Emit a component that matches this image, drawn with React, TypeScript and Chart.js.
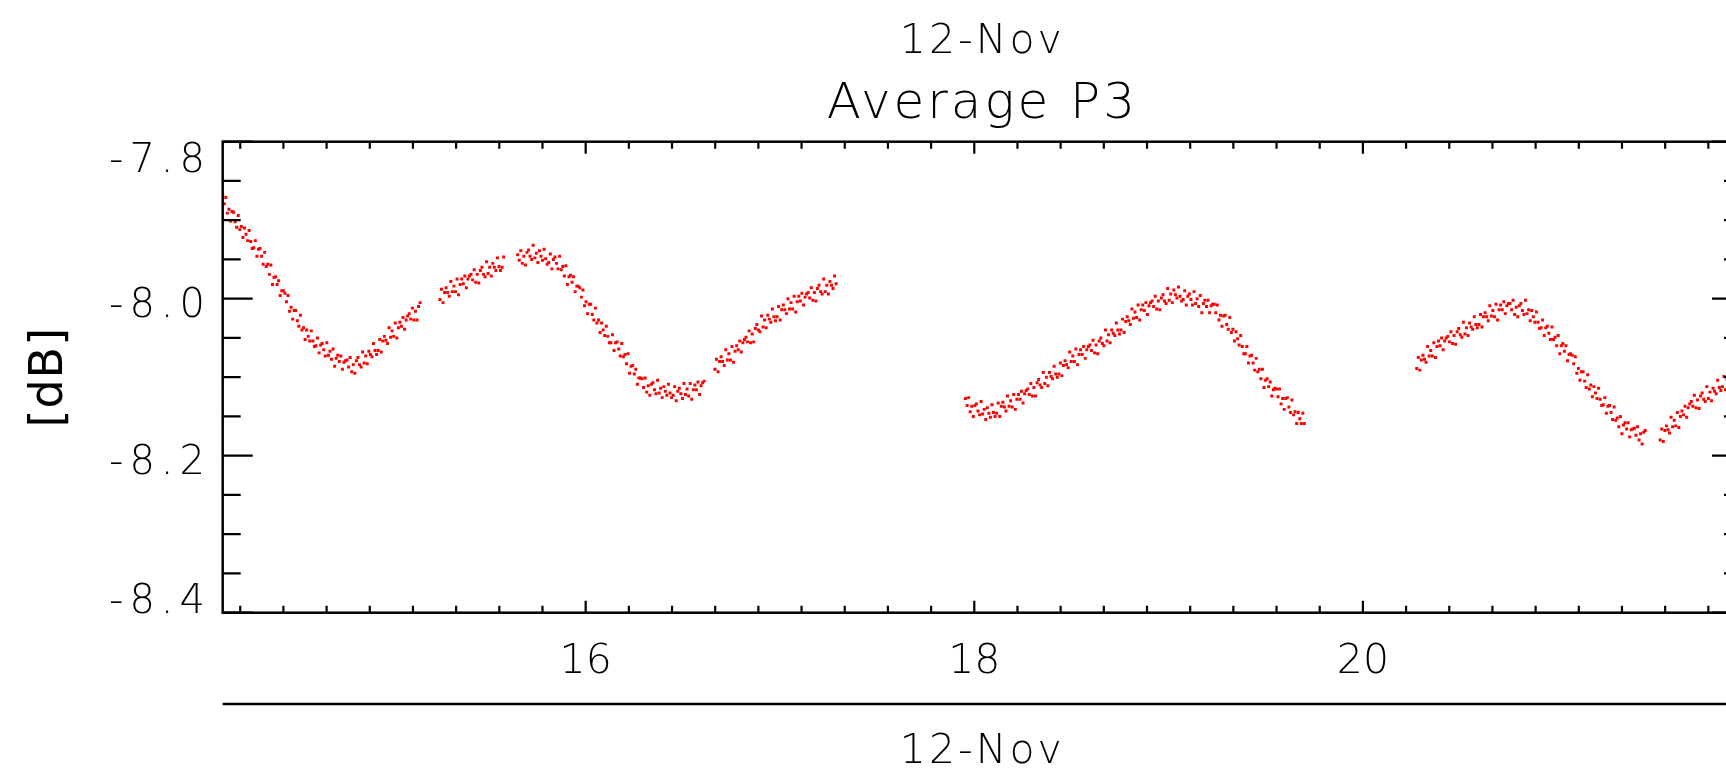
import React, { useEffect, useRef } from 'react';
import { Chart, registerables } from 'chart.js';

Chart.register(...registerables);

// ---- sampling (hours of day, 12-Nov) ----
const SAMPLE_STEP_H = 0.008;

const SEG1_START = 14.132;
const SEG1 = [
  -7.868, -7.879, -7.871, -7.891, -7.886, -7.901, -7.889, -7.890, -7.902, -7.909,
  -7.894, -7.912, -7.908, -7.922, -7.910, -7.918, -7.926, -7.913, -7.927, -7.936,
  -7.935, -7.926, -7.946, -7.937, -7.936, -7.946, -7.956, -7.941, -7.959, -7.956,
  -7.969, -7.957, -7.982, -7.973, -7.972, -7.982, -7.977, -7.996, -7.990, -7.990,
  -7.993, -8.004, -7.996, -8.016, -8.011, -8.026, -8.015, -8.015, -8.028, -8.035,
  -8.021, -8.040, -8.037, -8.052, -8.040, -8.048, -8.054, -8.041, -8.054, -8.061,
  -8.060, -8.050, -8.069, -8.059, -8.057, -8.065, -8.073, -8.056, -8.072, -8.067,
  -8.077, -8.064, -8.086, -8.076, -8.072, -8.080, -8.073, -8.090, -8.081, -8.079,
  -8.078, -8.087, -8.075, -8.093, -8.084, -8.095, -8.079, -8.075, -8.084, -8.087,
  -8.068, -8.082, -8.073, -8.083, -8.067, -8.071, -8.074, -8.057, -8.066, -8.071,
  -8.066, -8.052, -8.068, -8.054, -8.048, -8.053, -8.057, -8.037, -8.049, -8.041,
  -8.048, -8.031, -8.050, -8.037, -8.030, -8.035, -8.024, -8.039, -8.027, -8.022,
  -8.019, -8.026, -8.012, -8.027, -8.016, -8.027, -8.010, -8.005,
];

const SEG2A_START = 15.25;
const SEG2A = [
  -8.001, -7.988, -8.005, -7.992, -7.986, -7.992, -7.997, -7.978, -7.991, -7.984,
  -7.991, -7.975, -7.995, -7.982, -7.975, -7.981, -7.971, -7.986, -7.975, -7.971,
  -7.969, -7.976, -7.963, -7.979, -7.969, -7.980, -7.964, -7.960, -7.969, -7.972,
  -7.953, -7.968, -7.960, -7.971, -7.955, -7.960, -7.964, -7.948, -7.959, -7.964,
  -7.960, -7.947,
];

const SEG2B_START = 15.65;
const SEG2B = [
  -7.944, -7.951, -7.939, -7.955, -7.946, -7.957, -7.941, -7.938, -7.946, -7.950,
  -7.932, -7.948, -7.942, -7.954, -7.939, -7.946, -7.951, -7.937, -7.949, -7.956,
  -7.954, -7.943, -7.962, -7.950, -7.947, -7.955, -7.962, -7.946, -7.963, -7.959,
  -7.971, -7.958, -7.982, -7.972, -7.970, -7.979, -7.972, -7.991, -7.984, -7.984,
  -7.986, -7.998, -7.989, -8.009, -8.004, -8.019, -8.007, -8.007, -8.020, -8.027,
  -8.012, -8.031, -8.027, -8.043, -8.031, -8.040, -8.047, -8.035, -8.048, -8.056,
  -8.056, -8.046, -8.066, -8.056, -8.055, -8.064, -8.073, -8.057, -8.074, -8.071,
  -8.083, -8.070, -8.095, -8.086, -8.085, -8.096, -8.090, -8.109, -8.101, -8.101,
  -8.102, -8.113, -8.101, -8.119, -8.111, -8.123, -8.109, -8.107, -8.116, -8.121,
  -8.104, -8.120, -8.114, -8.126, -8.112, -8.118, -8.123, -8.109, -8.120, -8.126,
  -8.123, -8.112, -8.130, -8.118, -8.114, -8.121, -8.127, -8.108, -8.122, -8.115,
  -8.124, -8.108, -8.128, -8.116, -8.110, -8.116, -8.106, -8.122, -8.111, -8.107,
  -8.105,
];

const SEG2C_START = 16.665;
const SEG2C = [
  -8.090, -8.077, -8.093, -8.080, -8.074, -8.080, -8.085, -8.065, -8.078, -8.070,
  -8.078, -8.061, -8.081, -8.067, -8.060, -8.065, -8.054, -8.068, -8.056, -8.052,
  -8.049, -8.055, -8.041, -8.056, -8.045, -8.055, -8.038, -8.033, -8.040, -8.042,
  -8.022, -8.036, -8.027, -8.037, -8.021, -8.026, -8.030, -8.013, -8.023, -8.028,
  -8.023, -8.010, -8.027, -8.014, -8.008, -8.014, -8.019, -8.000, -8.013, -8.005,
  -8.013, -7.997, -8.017, -8.004, -7.997, -8.003, -7.993, -8.008, -7.998, -7.994,
  -7.992, -7.999, -7.986, -8.002, -7.992, -8.003, -7.987, -7.983, -7.991, -7.994,
  -7.975, -7.991, -7.983, -7.994, -7.978, -7.983, -7.987, -7.971, -7.981,
];

const SEG3_START = 17.955;
const SEG3 = [
  -8.127, -8.136, -8.126, -8.144, -8.137, -8.150, -8.136, -8.134, -8.143, -8.148,
  -8.131, -8.147, -8.141, -8.154, -8.139, -8.146, -8.151, -8.135, -8.145, -8.150,
  -8.146, -8.133, -8.150, -8.137, -8.132, -8.138, -8.143, -8.124, -8.137, -8.130,
  -8.138, -8.122, -8.141, -8.128, -8.122, -8.128, -8.118, -8.133, -8.121, -8.117,
  -8.115, -8.122, -8.108, -8.124, -8.113, -8.124, -8.107, -8.103, -8.110, -8.113,
  -8.094, -8.108, -8.100, -8.111, -8.094, -8.099, -8.102, -8.086, -8.096, -8.100,
  -8.096, -8.082, -8.098, -8.085, -8.079, -8.084, -8.088, -8.068, -8.080, -8.073,
  -8.080, -8.064, -8.084, -8.071, -8.065, -8.071, -8.061, -8.076, -8.065, -8.061,
  -8.059, -8.066, -8.053, -8.069, -8.059, -8.070, -8.054, -8.050, -8.057, -8.060,
  -8.040, -8.054, -8.046, -8.056, -8.040, -8.044, -8.047, -8.031, -8.040, -8.045,
  -8.040, -8.026, -8.043, -8.029, -8.023, -8.028, -8.033, -8.013, -8.025, -8.017,
  -8.024, -8.008, -8.027, -8.014, -8.008, -8.015, -8.005, -8.020, -8.009, -8.005,
  -8.003, -8.010, -7.997, -8.013, -8.003, -8.014, -7.999, -7.995, -8.003, -8.006,
  -7.987, -8.002, -7.994, -8.005, -7.989, -7.995, -7.999, -7.985, -7.997, -8.003,
  -8.001, -7.990, -8.008, -7.997, -7.994, -8.001, -8.008, -7.991, -8.006, -8.000,
  -8.010, -7.996, -8.018, -8.006, -8.002, -8.010, -8.002, -8.018, -8.009, -8.007,
  -8.007, -8.018, -8.008, -8.027, -8.021, -8.035, -8.022, -8.021, -8.033, -8.039,
  -8.024, -8.043, -8.039, -8.054, -8.042, -8.051, -8.059, -8.047, -8.061, -8.070,
  -8.070, -8.061, -8.082, -8.073, -8.072, -8.082, -8.091, -8.076, -8.093, -8.090,
  -8.102, -8.090, -8.113, -8.104, -8.102, -8.112, -8.106, -8.124, -8.116, -8.114,
  -8.115, -8.125, -8.115, -8.134, -8.127, -8.141, -8.127, -8.126, -8.138, -8.145,
  -8.129, -8.148, -8.144, -8.159, -8.145, -8.153, -8.159, -8.146, -8.159,
];

const SEG4_START = 20.277;
const SEG4 = [
  -8.089, -8.075, -8.091, -8.078, -8.072, -8.077, -8.081, -8.061, -8.073, -8.066,
  -8.073, -8.056, -8.075, -8.061, -8.054, -8.060, -8.050, -8.065, -8.054, -8.050,
  -8.048, -8.055, -8.042, -8.057, -8.047, -8.058, -8.042, -8.038, -8.046, -8.049,
  -8.030, -8.045, -8.037, -8.047, -8.031, -8.036, -8.039, -8.023, -8.033, -8.037,
  -8.033, -8.020, -8.036, -8.023, -8.018, -8.023, -8.028, -8.009, -8.022, -8.015,
  -8.023, -8.007, -8.027, -8.014, -8.008, -8.014, -8.004, -8.019, -8.009, -8.006,
  -8.006, -8.014, -8.002, -8.020, -8.011, -8.023, -8.009, -8.006, -8.015, -8.020,
  -8.002, -8.019, -8.014, -8.028, -8.015, -8.023, -8.030, -8.017, -8.030, -8.038,
  -8.037, -8.027, -8.047, -8.037, -8.035, -8.044, -8.052, -8.036, -8.052, -8.049,
  -8.060, -8.047, -8.070, -8.060, -8.057, -8.067, -8.060, -8.079, -8.071, -8.070,
  -8.072, -8.083, -8.074, -8.095, -8.089, -8.104, -8.093, -8.093, -8.105, -8.113,
  -8.097, -8.115, -8.110, -8.125, -8.112, -8.120, -8.127, -8.114, -8.128, -8.136,
  -8.135, -8.126, -8.146, -8.137, -8.136, -8.145, -8.154, -8.138, -8.155, -8.152,
  -8.163, -8.150, -8.172, -8.161, -8.158, -8.166, -8.158, -8.176, -8.167, -8.166,
  -8.165, -8.174, -8.163, -8.180, -8.172, -8.185, -8.170, -8.168,
];

const SEG5_START = 21.53;
const SEG5 = [
  -8.180, -8.166, -8.182, -8.168, -8.162, -8.167, -8.171, -8.151, -8.163, -8.155,
  -8.162, -8.145, -8.164, -8.150, -8.143, -8.148, -8.137, -8.151, -8.139, -8.134,
  -8.131, -8.137, -8.123, -8.139, -8.129, -8.140, -8.124, -8.120, -8.128, -8.131,
  -8.112, -8.127, -8.119, -8.130, -8.114, -8.118, -8.121, -8.104, -8.113, -8.117,
  -8.112, -8.099, -8.116, -8.103, -8.097, -8.103, -8.108, -8.089, -8.101, -8.094,
  -8.101, -8.085, -8.105,
];

const SEGMENTS = [
  { start: SEG1_START, values: SEG1 },
  { start: SEG2A_START, values: SEG2A },
  { start: SEG2B_START, values: SEG2B },
  { start: SEG2C_START, values: SEG2C },
  { start: SEG3_START, values: SEG3 },
  { start: SEG4_START, values: SEG4 },
  { start: SEG5_START, values: SEG5 },
];

// ---- axes ----
const X_MIN = 14.132;
const X_MAX = 21.951;
const Y_MIN = -8.4;
const Y_MAX = -7.8;
const X_MAJOR_TICKS = [16, 18, 20];
const X_TICK_LABELS = ['16', '18', '20'];
const X_MAJOR_STEP = 2;
const X_MINOR_PER_MAJOR = 9;
const Y_MAJOR_TICKS = [-7.8, -8.0, -8.2, -8.4];
const Y_TICK_LABELS = ['-7.8', '-8.0', '-8.2', '-8.4'];
const Y_MAJOR_STEP = 0.2;
const Y_MINOR_PER_MAJOR = 4;

const TITLE_DATE = '12-Nov';
const TITLE_MAIN = 'Average P3';
const Y_TITLE = '[dB]';
const X_TITLE = '12-Nov';

const FONT = '"DejaVu Sans", "Liberation Sans", sans-serif';

function buildPoints() {
  const pts: { x: number; y: number }[] = [];
  SEGMENTS.forEach((s) => {
    s.values.forEach((v, i) => pts.push({ x: s.start + i * SAMPLE_STEP_H, y: v }));
  });
  return pts;
}

const idlAxes = {
  id: 'idlAxes',
  afterDraw(chart: any) {
    const { ctx, chartArea: a, scales } = chart;
    const xs = scales.x;
    const ys = scales.y;
    const W = chart.width;
    const cx = (a.left + a.right) / 2;
    ctx.save();
    ctx.strokeStyle = '#000';
    ctx.fillStyle = '#000';
    ctx.lineCap = 'butt';

    // frame
    ctx.lineWidth = 2.5;
    ctx.strokeRect(a.left, a.top, a.right - a.left, a.bottom - a.top);

    // x ticks (bottom & top, inward)
    ctx.lineWidth = 2.2;
    const xMinorStep = X_MAJOR_STEP / X_MINOR_PER_MAJOR;
    const x0 = X_MAJOR_TICKS[0];
    const kStart = Math.ceil((X_MIN - x0) / xMinorStep - 1e-9);
    const kEnd = Math.floor((X_MAX - x0) / xMinorStep + 1e-9);
    for (let k = kStart; k <= kEnd; k++) {
      const v = x0 + k * xMinorStep;
      const major = k % X_MINOR_PER_MAJOR === 0;
      const len = major ? 12 : 7;
      const px = xs.getPixelForValue(v);
      ctx.beginPath();
      ctx.moveTo(px, a.bottom);
      ctx.lineTo(px, a.bottom - len);
      ctx.moveTo(px, a.top);
      ctx.lineTo(px, a.top + len);
      ctx.stroke();
    }

    // y ticks (left & right, inward)
    const yMinorStep = Y_MAJOR_STEP / Y_MINOR_PER_MAJOR;
    const nY = Math.round((Y_MAX - Y_MIN) / yMinorStep);
    for (let k = 0; k <= nY; k++) {
      const v = Y_MIN + k * yMinorStep;
      const major = k % Y_MINOR_PER_MAJOR === 0;
      const len = major ? 30 : 18;
      const py = ys.getPixelForValue(v);
      ctx.beginPath();
      ctx.moveTo(a.left, py);
      ctx.lineTo(a.left + len, py);
      ctx.moveTo(a.right, py);
      ctx.lineTo(a.right - len, py);
      ctx.stroke();
    }

    // y tick labels
    ctx.font = `200 40px ${FONT}`;
    (ctx as any).letterSpacing = '6px';
    ctx.textAlign = 'right';
    ctx.textBaseline = 'alphabetic';
    const capH = 30;
    Y_MAJOR_TICKS.forEach((v, i) => {
      const py = ys.getPixelForValue(v);
      const base = Math.min(Math.max(py + 18.7, a.top + capH), a.bottom);
      ctx.fillText(Y_TICK_LABELS[i], 211, base);
    });

    // x tick labels
    (ctx as any).letterSpacing = '0px';
    ctx.font = `200 41px ${FONT}`;
    ctx.textAlign = 'center';
    X_MAJOR_TICKS.forEach((v, i) => {
      ctx.fillText(X_TICK_LABELS[i], xs.getPixelForValue(v), 673);
    });

    // titles
    (ctx as any).letterSpacing = '3px';
    ctx.font = `200 41px ${FONT}`;
    ctx.fillText(TITLE_DATE, cx, 53);
    ctx.font = `200 50px ${FONT}`;
    ctx.fillText(TITLE_MAIN, cx, 118);

    // lower date axis line and label
    ctx.lineWidth = 2.5;
    ctx.beginPath();
    ctx.moveTo(a.left, 704);
    ctx.lineTo(W, 704);
    ctx.stroke();
    ctx.font = `200 41px ${FONT}`;
    ctx.fillText(X_TITLE, cx, 763);

    // y title, rotated
    (ctx as any).letterSpacing = '1px';
    ctx.font = `400 46px ${FONT}`;
    ctx.translate(50, (a.top + a.bottom) / 2);
    ctx.rotate(-Math.PI / 2);
    ctx.textAlign = 'center';
    ctx.textBaseline = 'middle';
    ctx.fillText(Y_TITLE, 0, 0);
    ctx.restore();
  },
};

export default function App() {
  const ref = useRef<HTMLCanvasElement | null>(null);

  useEffect(() => {
    if (!ref.current) return;
    const chart = new Chart(ref.current, {
      type: 'scatter',
      data: {
        datasets: [
          {
            data: buildPoints(),
            backgroundColor: '#ff0000',
            borderWidth: 0,
            pointStyle: 'rect',
            pointRadius: 2.1,
            pointHoverRadius: 2.1,
          },
        ],
      },
      options: {
        animation: false,
        responsive: false,
        devicePixelRatio: 1,
        events: [],
        layout: { padding: { left: 222.7, top: 141.7, right: 58, bottom: 159.3 } },
        plugins: {
          legend: { display: false },
          tooltip: { enabled: false },
          title: { display: false },
        },
        scales: {
          x: { type: 'linear', min: X_MIN, max: X_MAX, display: false },
          y: { type: 'linear', min: Y_MIN, max: Y_MAX, display: false },
        },
      },
      plugins: [idlAxes],
    } as any);
    return () => chart.destroy();
  }, []);

  return (
    <div
      style={{
        position: 'fixed',
        left: 0,
        top: 0,
        width: 1726,
        height: 772,
        overflow: 'hidden',
        background: '#ffffff',
      }}
    >
      <canvas ref={ref} width={1800} height={772} style={{ width: 1800, height: 772, display: 'block' }} />
    </div>
  );
}
